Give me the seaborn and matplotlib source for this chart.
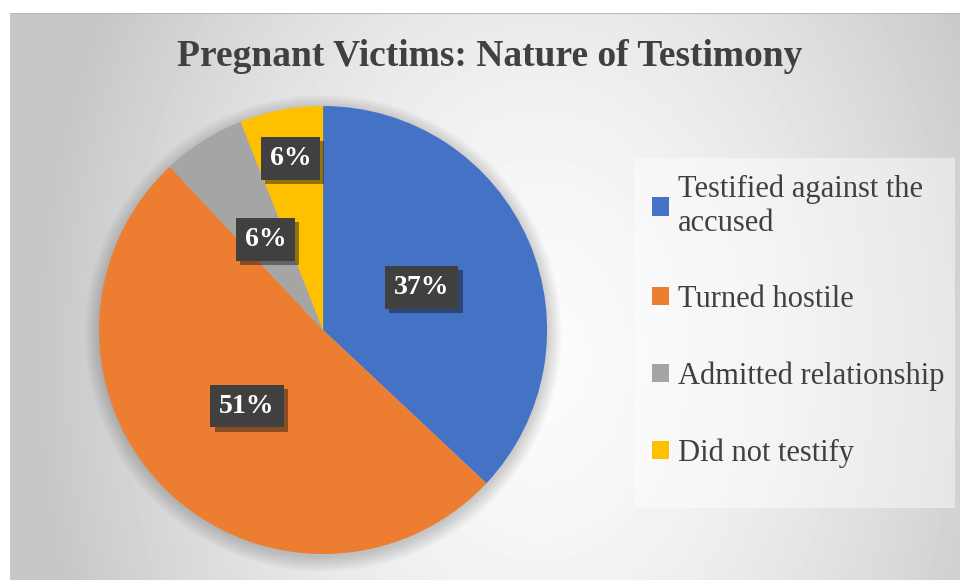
import numpy as np
import matplotlib.pyplot as plt
import matplotlib.patheffects as pe
from matplotlib.patches import Circle, Rectangle
import seaborn as sns

# Data
labels = ['Testified against the\naccused', 'Turned hostile',
          'Admitted relationship', 'Did not testify']
shares = [37, 51, 6, 6]
colors = ['#4472C4', '#ED7D31', '#A5A5A5', '#FFC000']
title = 'Pregnant Victims: Nature of Testimony'

sns.set_theme(style='white')
plt.rcParams['font.family'] = ['Liberation Serif', 'DejaVu Serif']

fig = plt.figure(figsize=(9.6, 5.8), dpi=100)
fig.patch.set_facecolor('white')

# Radial grey background like the Office chart area
bg = fig.add_axes([10 / 960, 0, 950 / 960, 567 / 580])
xx, yy = np.meshgrid(np.arange(950) + 10, np.arange(567) + 13)
t = np.sqrt(((xx - 540) / 500) ** 2 + ((yy - 360) / 700) ** 2)
t = np.clip(t, 0, 1) ** 1.6
shade = 0.985 - (0.985 - 0.78) * t
bg.imshow(shade, cmap='gray', vmin=0, vmax=1, aspect='auto', interpolation='bilinear')
bg.axis('off')
bg.axhline(-0.5, color='#b8b8b8', lw=1.5)

# Pie
ax = fig.add_axes([0.1032, 0.0448, 0.4667, 0.7724])
ax.set_facecolor('none')
for i in range(8):
    ax.add_patch(Circle((0, -0.015), 1 + 0.009 * i, color='black', alpha=0.025,
                        lw=0, zorder=0, clip_on=False))

wedges, texts, autotexts = ax.pie(
    shares, colors=colors, startangle=90, counterclock=False,
    autopct='%1.0f%%', pctdistance=0.48,
    wedgeprops=dict(linewidth=0),
    textprops=dict(color='white', fontsize=20, fontweight='bold'))

# the small yellow slice label sits further out
w = wedges[3]
ang = np.deg2rad((w.theta1 + w.theta2) / 2)
autotexts[3].set_position((0.78 * np.cos(ang), 0.78 * np.sin(ang)))

for txt in autotexts:
    txt.set_bbox(dict(boxstyle='square,pad=0.32', fc='#404040', ec='none'))
    txt.get_bbox_patch().set_path_effects(
        [pe.SimplePatchShadow(offset=(3, -3), alpha=0.45), pe.Normal()])

ax.set_xlim(-1, 1)
ax.set_ylim(-1, 1)

fig.text(490 / 960, 1 - 56 / 580, title, ha='center', va='center',
         fontsize=27, fontweight='bold', color='#404040')

# legend area (lighter panel) and entries
fig.patches.append(Rectangle((635 / 960, 1 - 508 / 580), 320 / 960, 350 / 580,
                             transform=fig.transFigure, fc='white', alpha=0.45,
                             ec='none', zorder=1))
fig.legend(wedges, labels, loc='upper left',
           bbox_to_anchor=(635 / 960, 1 - 158 / 580),
           fontsize=22, labelcolor='#404040', frameon=False,
           handlelength=0.55, handleheight=0.55,
           handletextpad=0.3, labelspacing=1.55, borderpad=0.55,
           borderaxespad=0)

fig.savefig('out.png', dpi=100)
